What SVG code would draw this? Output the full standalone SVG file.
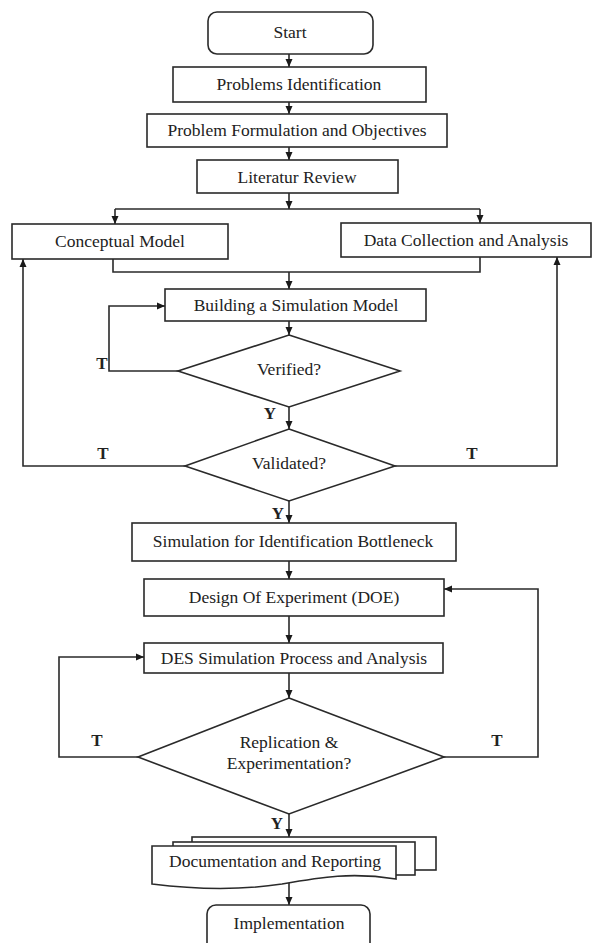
<svg xmlns="http://www.w3.org/2000/svg" width="592" height="943" viewBox="0 0 592 943">
<defs>
<marker id="ah" markerUnits="userSpaceOnUse" markerWidth="8" markerHeight="8" viewBox="0 0 8 8" refX="8" refY="4" orient="auto">
<path d="M0,0.5 L8,4 L0,7.5 Z" fill="#1a1a1a"/>
</marker>
<style>
.box{fill:#fff;stroke:#2a2a2a;stroke-width:1.6}
.ln{fill:none;stroke:#2a2a2a;stroke-width:1.6}
.ar{fill:none;stroke:#2a2a2a;stroke-width:1.6;marker-end:url(#ah)}
text{font-family:'Liberation Serif','DejaVu Serif',serif}
.t{font-size:17.5px;fill:#222;text-anchor:middle;dominant-baseline:central}
.lb{font-size:17px;font-weight:bold;fill:#222;text-anchor:middle;dominant-baseline:central}
</style>
</defs>
<rect width="592" height="943" fill="#fff"/>

<g id="connectors" font-family="Liberation Serif, DejaVu Serif, serif">
<line class="ar" x1="289" y1="54" x2="289" y2="67"/>
<line class="ar" x1="289" y1="102" x2="289" y2="114"/>
<line class="ar" x1="289" y1="147" x2="289" y2="160"/>
<line class="ar" x1="289" y1="193" x2="289" y2="209"/>
<line class="ln" x1="115" y1="209" x2="480" y2="209"/>
<line class="ar" x1="115" y1="209" x2="115" y2="224"/>
<line class="ar" x1="480" y1="209" x2="480" y2="223"/>
<path class="ln" d="M113,259 V272 H480 V257"/>
<line class="ar" x1="289" y1="272" x2="289" y2="289"/>
<line class="ar" x1="289" y1="321" x2="289" y2="335"/>
<path class="ar" d="M178,371 H109 V306 H165"/>
<line class="ar" x1="289" y1="407" x2="289" y2="429"/>
<path class="ar" d="M185,466 H23 V259"/>
<path class="ar" d="M395,466 H557 V257"/>
<line class="ar" x1="289" y1="501" x2="289" y2="523"/>
<line class="ar" x1="289" y1="561" x2="289" y2="579"/>
<line class="ar" x1="289" y1="616" x2="289" y2="643"/>
<line class="ar" x1="289" y1="673" x2="289" y2="698"/>
<path class="ar" d="M138,757 H59 V657 H144"/>
<path class="ar" d="M444,757 H538 V589 H444"/>
<line class="ar" x1="289" y1="814" x2="289" y2="837"/>
<line class="ar" x1="289" y1="882" x2="289" y2="905"/>
<text class="lb" x="102" y="363">T</text>
<text class="lb" x="270" y="413">Y</text>
<text class="lb" x="103" y="453">T</text>
<text class="lb" x="472" y="453">T</text>
<text class="lb" x="278" y="513">Y</text>
<text class="lb" x="97" y="740">T</text>
<text class="lb" x="497" y="740">T</text>
<text class="lb" x="277" y="823">Y</text>
</g>

<g id="nodes" font-family="Liberation Serif, DejaVu Serif, serif">
<g id="start">
<rect class="box" x="208" y="12" width="165" height="42" rx="9"/>
<text class="t" x="290" y="32">Start</text>
</g>
<g id="problems-identification">
<rect class="box" x="173" y="67" width="253" height="35"/>
<text class="t" x="299" y="84">Problems Identification</text>
</g>
<g id="problem-formulation">
<rect class="box" x="147" y="114" width="300" height="33"/>
<text class="t" x="297" y="130">Problem Formulation and Objectives</text>
</g>
<g id="literatur-review">
<rect class="box" x="197" y="160" width="201" height="33"/>
<text class="t" x="297" y="177">Literatur Review</text>
</g>
<g id="conceptual-model">
<rect class="box" x="12" y="224" width="216" height="35"/>
<text class="t" x="120" y="241">Conceptual Model</text>
</g>
<g id="data-collection">
<rect class="box" x="341" y="223" width="250" height="34"/>
<text class="t" x="466" y="240">Data Collection and Analysis</text>
</g>
<g id="building-model">
<rect class="box" x="165" y="289" width="261" height="32"/>
<text class="t" x="296" y="305">Building a Simulation Model</text>
</g>
<g id="verified">
<polygon class="box" points="289,335 400,371 289,407 178,371"/>
<text class="t" x="289" y="369">Verified?</text>
</g>
<g id="validated">
<polygon class="box" points="289,429 395,466 289,501 185,466"/>
<text class="t" x="289" y="463">Validated?</text>
</g>
<g id="simulation-bottleneck">
<rect class="box" x="132" y="523" width="324" height="38"/>
<text class="t" x="293" y="541">Simulation for Identification Bottleneck</text>
</g>
<g id="doe">
<rect class="box" x="144" y="579" width="300" height="37"/>
<text class="t" x="294" y="597">Design Of Experiment (DOE)</text>
</g>
<g id="des-simulation">
<rect class="box" x="144" y="643" width="299" height="30"/>
<text class="t" x="294" y="658">DES Simulation Process and Analysis</text>
</g>
<g id="replication">
<polygon class="box" points="289,698 444,757 289,814 138,757"/>
<text class="t" x="289" y="742">Replication &amp;</text>
<text class="t" x="289" y="763">Experimentation?</text>
</g>
<g id="documentation">
<rect class="box" x="192" y="837" width="244" height="33"/>
<rect class="box" x="173" y="842" width="242" height="33"/>
<path class="box" d="M152,846 H396 V879 C352,872 322,877 282,884 C236,891 192,889 152,884 Z"/>
<text class="t" x="275" y="861">Documentation and Reporting</text>
</g>
<g id="implementation">
<rect class="box" x="207" y="905" width="163" height="50" rx="9"/>
<text class="t" x="289" y="923">Implementation</text>
</g>
</g>
</svg>
